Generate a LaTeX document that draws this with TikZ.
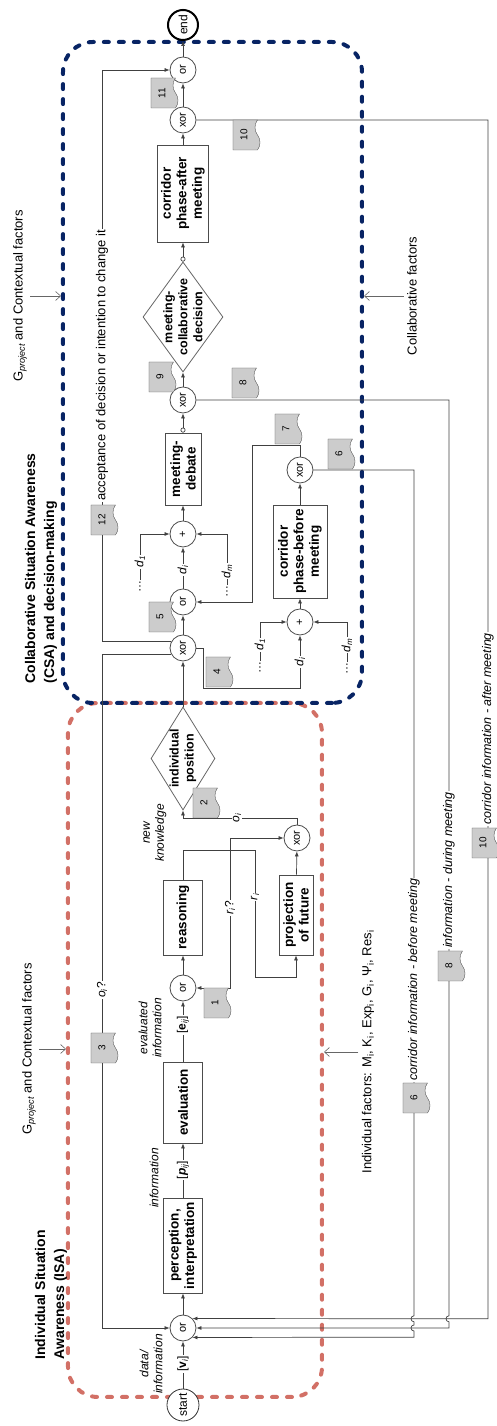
\documentclass[tikz,border=0pt]{standalone}
\usepackage{fontspec}
\setmainfont{Liberation Sans}
\usetikzlibrary{arrows.meta,backgrounds,shapes.geometric,shapes.symbols}
\definecolor{isared}{RGB}{210,112,102}
\definecolor{csablue}{RGB}{8,36,100}

\begin{document}
\begin{tikzpicture}[x=1pt,y=1pt,rotate=90,transform shape]
\tikzstyle{block} = [rectangle, draw=black!70, line width=0.8pt, fill=white,
align=center, inner sep=1pt, font=\fontsize{13.5}{15.5}\selectfont\bfseries]
\tikzstyle{decision} = [diamond, draw=black!60, line width=0.8pt, fill=white, inner sep=0pt]
\tikzstyle{dtext} = [align=center, font=\fontsize{12.5}{15}\selectfont\bfseries]
\tikzstyle{gate} = [circle, draw=black!70, line width=0.8pt, fill=white,
minimum size=26pt, inner sep=0pt, font=\fontsize{11}{11}\selectfont]
\tikzstyle{startend} = [circle, draw=black!80, line width=0.8pt, fill=white,
minimum size=32pt, inner sep=0pt, font=\fontsize{12}{12}\selectfont]
\tikzstyle{doc} = [tape, tape bend top=none, draw=black!65, fill=black!20,
minimum width=30pt, minimum height=27pt, inner sep=0pt, font=\fontsize{10}{10}\selectfont]
\tikzstyle{lbl} = [fill=white, inner sep=1pt, font=\fontsize{12}{14}\selectfont]
\tikzstyle{ilbl} = [align=center, inner sep=1pt, font=\fontsize{12}{14}\selectfont\itshape]
\tikzstyle{heading} = [align=left, font=\fontsize{14}{19}\selectfont\bfseries]
\tikzstyle{ctx} = [font=\fontsize{13}{15}\selectfont]
\tikzstyle{line} = [draw=black!75, line width=0.7pt]
\tikzstyle{arr} = [line, -{Latex[length=5pt,width=4pt]}]
\tikzstyle{oarr} = [line, {Circle[open,length=5pt,width=5pt]}-{Latex[length=5pt,width=4pt]}]
\tikzstyle{factor} = [draw=black!60, line width=0.6pt, -{Straight Barb[length=5pt,width=9pt]}]
\tikzstyle{isabox} = [draw=isared, line width=4pt, dash pattern=on 5pt off 10pt,
line cap=round, rounded corners=30pt]
\tikzstyle{csabox} = [draw=csablue, line width=4pt, dash pattern=on 5pt off 10pt,
line cap=round, rounded corners=30pt]

\useasboundingbox (0,0) rectangle (1426,496);

% individual situation awareness
\node [startend] (start) at (21,313) {start};
\node [gate] (or1) at (98,313) {or};
\node [block, minimum width=95, minimum height=39] (percep) at (180.5,313) {perception,\\interpretation};
\node [block, minimum width=81, minimum height=39] (eval) at (323.5,313) {evaluation};
\node [gate] (or2) at (438,313) {or};
\node [block, minimum width=75, minimum height=39] (reason) at (508.5,313) {reasoning};
\node [block, minimum width=80, minimum height=34] (proj) at (511,200) {projection\\of future};
\node [gate] (xor1) at (588,199) {xor};
\node [decision, minimum width=103, minimum height=64] (indpos) at (667.5,313) {};
\node [dtext] (indpos-t) at (indpos) {individual\\position};
\coordinate (j1) at (576,266);

% collaborative situation awareness
\node [gate] (xor2) at (778,313) {xor};
\node [gate] (or3) at (824,313) {or};
\node [gate] (plus2) at (892,313) {+};
\node [block, minimum width=72, minimum height=36] (debate) at (957,313) {meeting-\\debate};
\node [gate] (xor5) at (1026,313) {xor};
\node [decision, minimum width=110, minimum height=80] (meetdec) at (1109,313) {};
\node [dtext] (meetdec-t) at (meetdec) {meeting-\\collaborative\\decision};
\node [block, minimum width=97, minimum height=51] (after) at (1232.5,313) {corridor\\phase-after\\meeting};
\node [gate] (xor6) at (1306,313) {xor};
\node [gate] (orend) at (1356,313) {or};
\node [startend, minimum size=30pt, line width=2pt, draw=black] (end) at (1401,313) {end};
\node [gate] (plus1) at (804,196) {+};
\node [block, minimum width=93, minimum height=54] (before) at (874.5,196) {corridor\\phase-before\\meeting};
\node [gate] (xor4) at (956,196) {xor};

% documents
\node [doc] (d1) at (423,281) {1};
\node [doc] (d2) at (623,292) {2};
\node [doc] (d3) at (378,394) {3};
\node [doc] (d4) at (754,279) {4};
\node [doc] (d5) at (809,336) {5};
\node [doc] (d6a) at (972,157) {6};
\node [doc] (d6b) at (328,82) {6};
\node [doc] (d7) at (997,210) {7};
\node [doc] (d8a) at (1043,253) {8};
\node [doc] (d8b) at (460,47) {8};
\node [doc] (d9) at (1049,336) {9};
\node [doc] (d10a) at (1291,252) {10};
\node [doc] (d10b) at (583,13) {10};
\node [doc] (d11) at (1333,334) {11};
\node [doc] (d12) at (906,394) {12};

% labels
\node [lbl] (vi) at (62,313) {[\textbf{v}\textsubscript{\itshape i}]};
\node [lbl] (pij) at (256,313) {[\textbf{\textit{p}}\textsubscript{\itshape ij}]};
\node [lbl] (eij) at (401,313) {[\textbf{e}\textsubscript{\itshape ij}]};
\node [ilbl] (datainfo) at (62,345) {data/\\information};
\node [ilbl] (info) at (248,342) {information};
\node [ilbl] (evalinfo) at (398,346) {evaluated\\information};
\node [ilbl] (newkn) at (593,341) {new\\knowledge};
\node [lbl] (oiq) at (436,394) {\textit{o}\textsubscript{\itshape i}?};
\node [lbl] (riq) at (518,266) {\textit{r}\textsubscript{\itshape i}?};
\node [lbl] (ri) at (529,241) {\textit{r}\textsubscript{\itshape i}};
\node [lbl] (oi) at (608,259) {\textit{o}\textsubscript{\itshape i}};
\node [lbl] (di2) at (856,313) {\textit{d}\textsubscript{\itshape i}};
\node [lbl] (dots1) at (839,356) {…};
\node [lbl] (dd1) at (864,356) {\textit{d}\textsubscript{\itshape 1}};
\node [lbl] (dotsm) at (834,269) {…};
\node [lbl] (ddm) at (855,269) {\textit{d}\textsubscript{\itshape m}};
\node [lbl] (di1) at (764,196) {\textit{d}\textsubscript{\itshape i}};
\node [lbl] (dotsa1) at (758,236) {…};
\node [lbl] (dda1) at (781,236) {\textit{d}\textsubscript{\itshape 1}};
\node [lbl] (dotsam) at (757,149) {…};
\node [lbl] (ddam) at (781,149) {\textit{d}\textsubscript{\itshape m}};
\node [lbl, anchor=west, font=\fontsize{13}{15}\selectfont] (accept) at (924,394) {acceptance of decision or intention to change it};
\node [lbl, anchor=west, font=\fontsize{12.5}{14}\selectfont\itshape] (cbefore) at (344,82) {corridor information - before meeting};
\node [lbl, anchor=west, font=\fontsize{12.5}{14}\selectfont\itshape] (during) at (477,47) {information - during meeting};
\node [lbl, anchor=west, font=\fontsize{12.5}{14}\selectfont\itshape] (cafter) at (600,8) {corridor information - after meeting};

% headings and factors
\node [heading, anchor=west] (isa) at (63,445) {Individual Situation\\Awareness (ISA)};
\node [heading, anchor=west] (csa) at (739,455) {Collaborative Situation Awareness\\(CSA) and decision-making};
\node [ctx] (gctx1) at (377,467) {G\textsubscript{\itshape project} and Contextual factors};
\node [ctx] (gctx2) at (1130,476) {G\textsubscript{\itshape project} and Contextual factors};
\node [ctx] (indfac) at (374,128) {Individual factors: M\textsubscript{i}, K\textsubscript{i}, Exp\textsubscript{i}, G\textsubscript{i}, Ψ\textsubscript{i}, Res\textsubscript{i}};
\node [ctx] (colfac) at (1130,84) {Collaborative factors};
\coordinate (isatop) at (377,430);
\coordinate (isabot) at (374,172);
\coordinate (csatop) at (1130,435);
\coordinate (csabot) at (1130,132);

\begin{scope}[on background layer]
\draw [isabox] (29,174) rectangle (723,428);
\draw [csabox] (723,134) rectangle (1384,433);
\draw [factor] (gctx1.south) -- (isatop);
\draw [factor] (gctx2.south) -- (csatop);
\draw [factor] (indfac.north) -- (isabot);
\draw [factor] (colfac.north) -- (csabot);
% main flow
\draw [arr] (start) -- (or1);
\draw [arr] (or1) -- (percep);
\draw [arr] (percep) -- (eval);
\draw [arr] (eval) -- (or2);
\draw [arr] (or2) -- (reason);
\draw [line] (reason) -| (j1);
\draw [arr] (j1) -| (or2);
\draw [arr] (j1) -| (xor1);
\draw [arr] (j1) |- (449,241) |- (proj);
\draw [arr] (proj) -- (xor1);
\draw [arr] (xor1) -| (608,313) -- (indpos);
\draw [arr] (indpos) -- (xor2);
\draw [arr] (xor2.120) |- (98,394) -- (or1);
\draw [arr] (xor2.60) |- (1356,394) -- (orend);
\draw [arr] (xor2) -- (778,293) -- (738,293) |- (plus1);
\draw [arr] (xor2) -- (or3);
\draw [arr] (or3) -- (plus2);
\draw [arr] (plus2) -- (debate);
\draw [oarr] (debate) -- (xor5);
\draw [arr] (xor5) -- (meetdec);
\draw [oarr] (meetdec) -- (after);
\draw [arr] (after) -- (xor6);
\draw [arr] (xor6) -- (orend);
\draw [arr] (orend) -- (end);
% inputs of the + gates
\draw [line] (dots1) -- (dd1);
\draw [arr] (dd1) -| (plus2);
\draw [line] (dotsm) -- (ddm);
\draw [arr] (ddm) -| (plus2);
\draw [line] (dotsa1) -- (dda1);
\draw [arr] (dda1) -| (plus1);
\draw [line] (dotsam) -- (ddam);
\draw [arr] (ddam) -| (plus1);
% corridor phase before meeting
\draw [arr] (plus1) -- (before);
\draw [arr] (before) -- (xor4);
\draw [arr] (xor4) -| (981,244) -| (or3);
% information back to the individual
\draw [arr] (xor4) -- (956,82) -- (110.2,82) arc[start angle=0,end angle=180,radius=3]
  -- (101,82) arc[start angle=0,end angle=180,radius=3] -- (88.8,82) -- (or1.-135);
\draw [arr] (xor5) -- (1026,47) -- (110.2,47) arc[start angle=0,end angle=180,radius=3]
  -- (98,47) -- (or1.south);
\draw [arr] (xor6) -- (1306,8) -- (107.2,8) -- (or1.-45);
\end{scope}
\end{tikzpicture}
\end{document}
